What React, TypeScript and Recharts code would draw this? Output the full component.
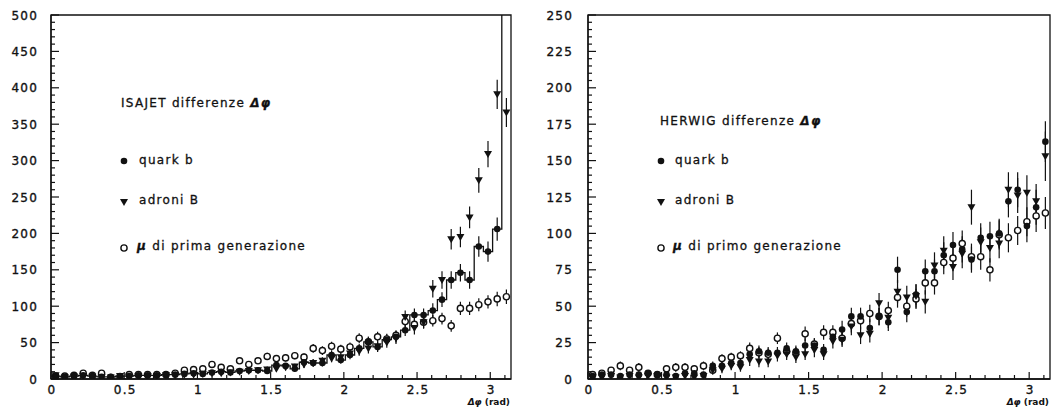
import React from 'react';
import { ComposedChart, Scatter, Line, XAxis, YAxis, ErrorBar, ReferenceArea } from 'recharts';

// Binning of the azimuthal difference: 50 bins between 0 and pi
const PHI_MAX = Math.PI;
const N_BINS = 50;
const BIN_W = PHI_MAX / N_BINS;
const binCenters = Array.from({ length: N_BINS }, (_, i) => (i + 0.5) * BIN_W);
const binEdges = Array.from({ length: N_BINS + 1 }, (_, i) => i * BIN_W);

// Axis ticks
const xTickLabels = [0, 0.5, 1, 1.5, 2, 2.5, 3];
const xAllTicks = Array.from({ length: 32 }, (_, i) => i / 10);
const isajetYLabels = [0, 50, 100, 150, 200, 250, 300, 350, 400, 450, 500];
const isajetYTicks = Array.from({ length: 51 }, (_, i) => i * 10);
const herwigYLabels = [0, 25, 50, 75, 100, 125, 150, 175, 200, 225, 250];
const herwigYTicks = Array.from({ length: 51 }, (_, i) => i * 5);

// ISAJET
const isajetQuarkB = [
  4, 3, 4, 5, 4, 3, 3, 4, 4, 5,
  5, 5, 6, 6, 7, 8, 7, 9, 10, 9,
  11, 12, 12, 11, 19, 18, 14, 23, 22, 22,
  33, 26, 33, 42, 51, 44, 54, 58, 67, 88,
  88, 94, 109, 136, 146, 136, 182, 175, 206, 560,
];
const isajetQuarkBErr = [
  2, 2, 2, 2, 2, 2, 2, 2, 2, 2,
  2, 2, 3, 3, 3, 3, 3, 3, 3, 3,
  3, 4, 4, 3, 4, 4, 4, 5, 5, 5,
  6, 5, 6, 6, 7, 7, 7, 8, 8, 9,
  9, 10, 10, 12, 12, 12, 14, 14, 16, 25,
];
const isajetAdroniB = [
  5, 2, 3, 4, 3, 2, 2, 4, 3, 4,
  4, 4, 5, 5, 6, 6, 7, 8, 8, 9,
  10, 11, 12, 13, 14, 16, 17, 20, 22, 25,
  28, 30, 35, 38, 42, 45, 50, 56, 85, 70,
  78, 124, 136, 192, 195, 222, 273, 309, 391, 366,
];
const isajetAdroniBErr = [
  2, 2, 2, 2, 2, 2, 2, 2, 2, 2,
  2, 2, 2, 2, 3, 3, 3, 3, 3, 3,
  3, 3, 4, 4, 4, 4, 4, 5, 5, 5,
  5, 6, 6, 6, 7, 7, 7, 8, 9, 9,
  9, 12, 12, 14, 14, 15, 17, 18, 20, 20,
];
const isajetMu = [
  4, 4, 5, 8, 5, 8, 2, 3, 6, 6,
  6, 6, 6, 8, 12, 13, 14, 20, 16, 14,
  25, 20, 25, 31, 28, 29, 32, 30, 42, 39,
  45, 41, 44, 56, 51, 58, 55, 60, 79, 75,
  78, 80, 83, 73, 97, 97, 102, 106, 110, 113,
];
const isajetMuErr = [
  2, 2, 2, 3, 2, 3, 2, 2, 2, 2,
  2, 2, 2, 3, 3, 3, 4, 4, 4, 4,
  4, 4, 4, 5, 5, 5, 5, 5, 6, 6,
  6, 6, 6, 7, 7, 7, 7, 7, 8, 8,
  8, 8, 8, 8, 9, 9, 9, 9, 10, 10,
];

// HERWIG
const herwigQuarkB = [
  2, 3, 3, 2, 3, 3, 4, 3, 3, 2,
  4, 4, 3, 9, 9, 11, 11, 17, 19, 18,
  18, 21, 19, 23, 23, 20, 29, 34, 43, 43,
  35, 43, 39, 75, 46, 58, 74, 74, 85, 92,
  89, 82, 97, 98, 100, 122, 130, 105, 118, 163,
];
const herwigQuarkBErr = [
  2, 2, 2, 2, 2, 2, 2, 2, 2, 2,
  2, 2, 2, 3, 3, 3, 3, 4, 4, 4,
  4, 4, 4, 5, 5, 4, 5, 6, 6, 6,
  6, 6, 6, 9, 7, 7, 8, 8, 9, 9,
  9, 9, 10, 10, 10, 11, 12, 11, 12, 14,
];
const herwigAdroniB = [
  1, 1, 2, 1, 2, 1, 2, 2, 1, 1,
  2, 1, 2, 6, 7, 9, 8, 13, 12, 12,
  16, 17, 15, 17, 20, 17, 26, 27, 36, 30,
  31, 52, 42, 60, 56, 57, 53, 78, 88, 77,
  86, 118, 94, 90, 93, 130, 126, 128, 122, 153,
];
const herwigAdroniBErr = [
  1, 1, 2, 1, 2, 1, 2, 2, 1, 1,
  2, 1, 2, 3, 3, 3, 3, 4, 4, 4,
  4, 4, 4, 4, 5, 4, 5, 5, 6, 6,
  6, 7, 7, 8, 8, 8, 8, 9, 10, 9,
  10, 12, 10, 10, 10, 12, 12, 12, 12, 17,
];
const herwigMu = [
  3, 4, 6, 9, 6, 8, 4, 3, 7, 8,
  8, 7, 9, 6, 14, 15, 16, 21, 18, 17,
  28, 19, 18, 31, 24, 32, 32, 28, 38, 40,
  45, 43, 47, 56, 50, 55, 66, 66, 80, 83,
  93, 84, 84, 75, 99, 97, 102, 108, 112, 114,
];
const herwigMuErr = [
  2, 2, 2, 3, 2, 3, 2, 2, 2, 3,
  3, 2, 3, 2, 3, 3, 3, 4, 4, 4,
  4, 4, 4, 5, 4, 5, 5, 5, 6, 6,
  6, 6, 6, 7, 7, 7, 8, 8, 8, 9,
  9, 9, 9, 8, 10, 10, 10, 10, 11, 11,
];

const FONT = '"DejaVu Sans", Verdana, sans-serif';
const INK = '#111';

const toPoints = (vals: number[], errs: number[]) =>
  binCenters.map((x, i) => ({ x, y: vals[i], err: errs[i] }));
const toSteps = (vals: number[]) =>
  binEdges.map((x, i) => ({ x, y: vals[Math.min(i, vals.length - 1)] }));

// Marker shapes
const FilledDot = (p: any) => <circle cx={p.cx} cy={p.cy} r={3.3} fill={INK} />;
const OpenDot = (p: any) => (
  <circle cx={p.cx} cy={p.cy} r={3.1} fill="#fff" stroke={INK} strokeWidth={1.4} />
);
const TriDown = (p: any) => (
  <path d={`M${p.cx - 4},${p.cy - 3} L${p.cx + 4},${p.cy - 3} L${p.cx},${p.cy + 4} Z`} fill={INK} />
);

const isMultiple = (v: number, step: number) => Math.abs(v / step - Math.round(v / step)) < 1e-6;

const tickText = {
  fontFamily: FONT, fontSize: 12, letterSpacing: 1.2, fill: INK, stroke: INK, strokeWidth: 0.35,
};

function makeXTick(margin: number) {
  return (props: any) => {
    const { x, y, payload } = props;
    const v = payload.value;
    const label = xTickLabels.find((l) => Math.abs(l - v) < 1e-6);
    const major = label !== undefined;
    const axisY = y - margin;
    return (
      <g>
        <line x1={x} x2={x} y1={axisY} y2={axisY - (major ? 7 : 4)} stroke={INK} strokeWidth={1.2} />
        {major && (
          <text x={x + 1} y={axisY + 15} textAnchor="middle" {...tickText}>
            {String(label)}
          </text>
        )}
      </g>
    );
  };
}

function makeYTick(margin: number, labels: number[], step: number) {
  return (props: any) => {
    const { x, y, payload } = props;
    const v = payload.value;
    const major = isMultiple(v, step);
    const axisX = x + margin;
    return (
      <g>
        <line x1={axisX} x2={axisX + (major ? 8 : 4)} y1={y} y2={y} stroke={INK} strokeWidth={1.2} />
        {major && labels.includes(v) && (
          <text x={x} y={y + 4.5} textAnchor="end" {...tickText}>
            {String(v)}
          </text>
        )}
      </g>
    );
  };
}

type PanelProps = {
  left: number;
  width: number;
  yAxisWidth: number;
  rightMargin: number;
  yMax: number;
  yTicks: number[];
  yLabels: number[];
  yStep: number;
  yTickMargin: number;
  quark: number[];
  quarkErr: number[];
  adroni: number[];
  adroniErr: number[];
  mu: number[];
  muErr: number[];
  histogram: boolean;
};

function Panel(p: PanelProps) {
  const errStyle = { stroke: INK, strokeWidth: 1.2 };
  return (
    <div style={{ position: 'absolute', left: p.left, top: 0 }}>
      <ComposedChart width={p.width} height={409}
        margin={{ top: 15, right: p.rightMargin, bottom: 0, left: 0 }}>
        <XAxis type="number" dataKey="x" domain={[0, PHI_MAX]} allowDataOverflow
          ticks={xAllTicks} interval={0} tickSize={0} tickMargin={4} tickLine={false}
          tick={makeXTick(4)} height={30} axisLine={{ stroke: INK, strokeWidth: 1.3 }} />
        <YAxis type="number" domain={[0, p.yMax]} allowDataOverflow ticks={p.yTicks}
          interval={0} tickSize={0} tickMargin={p.yTickMargin} tickLine={false}
          tick={makeYTick(p.yTickMargin, p.yLabels, p.yStep)} width={p.yAxisWidth}
          axisLine={{ stroke: INK, strokeWidth: 1.3 }} />
        <ReferenceArea x1={0} x2={PHI_MAX} y1={0} y2={p.yMax} fill="none" fillOpacity={0}
          stroke={INK} strokeWidth={1.3} ifOverflow="visible" />
        {p.histogram && (
          <Line data={toSteps(p.quark)} dataKey="y" type="stepAfter" dot={false}
            stroke={INK} strokeWidth={1.3} isAnimationActive={false} />
        )}
        <Scatter data={toPoints(p.mu, p.muErr)} dataKey="y" shape={OpenDot} isAnimationActive={false}>
          <ErrorBar dataKey="err" direction="y" width={0} {...errStyle} />
        </Scatter>
        <Scatter data={toPoints(p.quark, p.quarkErr)} dataKey="y" shape={FilledDot} isAnimationActive={false}>
          <ErrorBar dataKey="err" direction="y" width={0} {...errStyle} />
        </Scatter>
        <Scatter data={toPoints(p.adroni, p.adroniErr)} dataKey="y" shape={TriDown} isAnimationActive={false}>
          <ErrorBar dataKey="err" direction="y" width={0} {...errStyle} />
        </Scatter>
      </ComposedChart>
    </div>
  );
}

const textProps = {
  fontFamily: FONT, fontSize: 12, letterSpacing: 1.3, fill: INK, stroke: INK, strokeWidth: 0.3,
};

function Annotations() {
  return (
    <svg width={1052} height={409} style={{ position: 'absolute', left: 0, top: 0, pointerEvents: 'none' }}>
      {/* ISAJET legend */}
      <text x={121} y={107} {...textProps}>
        ISAJET differenze <tspan fontStyle="italic" fontWeight="bold">Δφ</tspan>
      </text>
      <FilledDot cx={124} cy={161} />
      <text x={139} y={164} {...textProps}>quark b</text>
      <TriDown cx={124} cy={202} />
      <text x={139} y={204} {...textProps}>adroni B</text>
      <OpenDot cx={124} cy={248} />
      <text x={137} y={250} {...textProps}>
        <tspan fontStyle="italic" fontWeight="bold">μ</tspan> di prima generazione
      </text>
      <text x={510} y={405} textAnchor="end" fontFamily={FONT} fontSize={9} fontWeight="bold" fill={INK}>
        <tspan fontStyle="italic">Δφ</tspan> (rad)
      </text>

      {/* HERWIG legend */}
      <text x={660} y={125} {...textProps}>
        HERWIG differenze <tspan fontStyle="italic" fontWeight="bold">Δφ</tspan>
      </text>
      <FilledDot cx={661} cy={161} />
      <text x={675} y={164} {...textProps}>quark b</text>
      <TriDown cx={661} cy={202} />
      <text x={675} y={204} {...textProps}>adroni B</text>
      <OpenDot cx={661} cy={248} />
      <text x={673} y={250} {...textProps}>
        <tspan fontStyle="italic" fontWeight="bold">μ</tspan> di primo generazione
      </text>
      <text x={1049} y={405} textAnchor="end" fontFamily={FONT} fontSize={9} fontWeight="bold" fill={INK}>
        <tspan fontStyle="italic">Δφ</tspan> (rad)
      </text>
    </svg>
  );
}

export default function App() {
  return (
    <div style={{ position: 'absolute', left: 0, top: 0, width: 1052, height: 409, background: '#fff', overflow: 'hidden' }}>
      <Panel left={0} width={520} yAxisWidth={51} rightMargin={9} yMax={500}
        yTicks={isajetYTicks} yLabels={isajetYLabels} yStep={50} yTickMargin={13}
        quark={isajetQuarkB} quarkErr={isajetQuarkBErr}
        adroni={isajetAdroniB} adroniErr={isajetAdroniBErr}
        mu={isajetMu} muErr={isajetMuErr} histogram />
      <Panel left={520} width={532} yAxisWidth={68} rightMargin={2} yMax={250}
        yTicks={herwigYTicks} yLabels={herwigYLabels} yStep={25} yTickMargin={15}
        quark={herwigQuarkB} quarkErr={herwigQuarkBErr}
        adroni={herwigAdroniB} adroniErr={herwigAdroniBErr}
        mu={herwigMu} muErr={herwigMuErr} histogram={false} />
      <Annotations />
    </div>
  );
}
